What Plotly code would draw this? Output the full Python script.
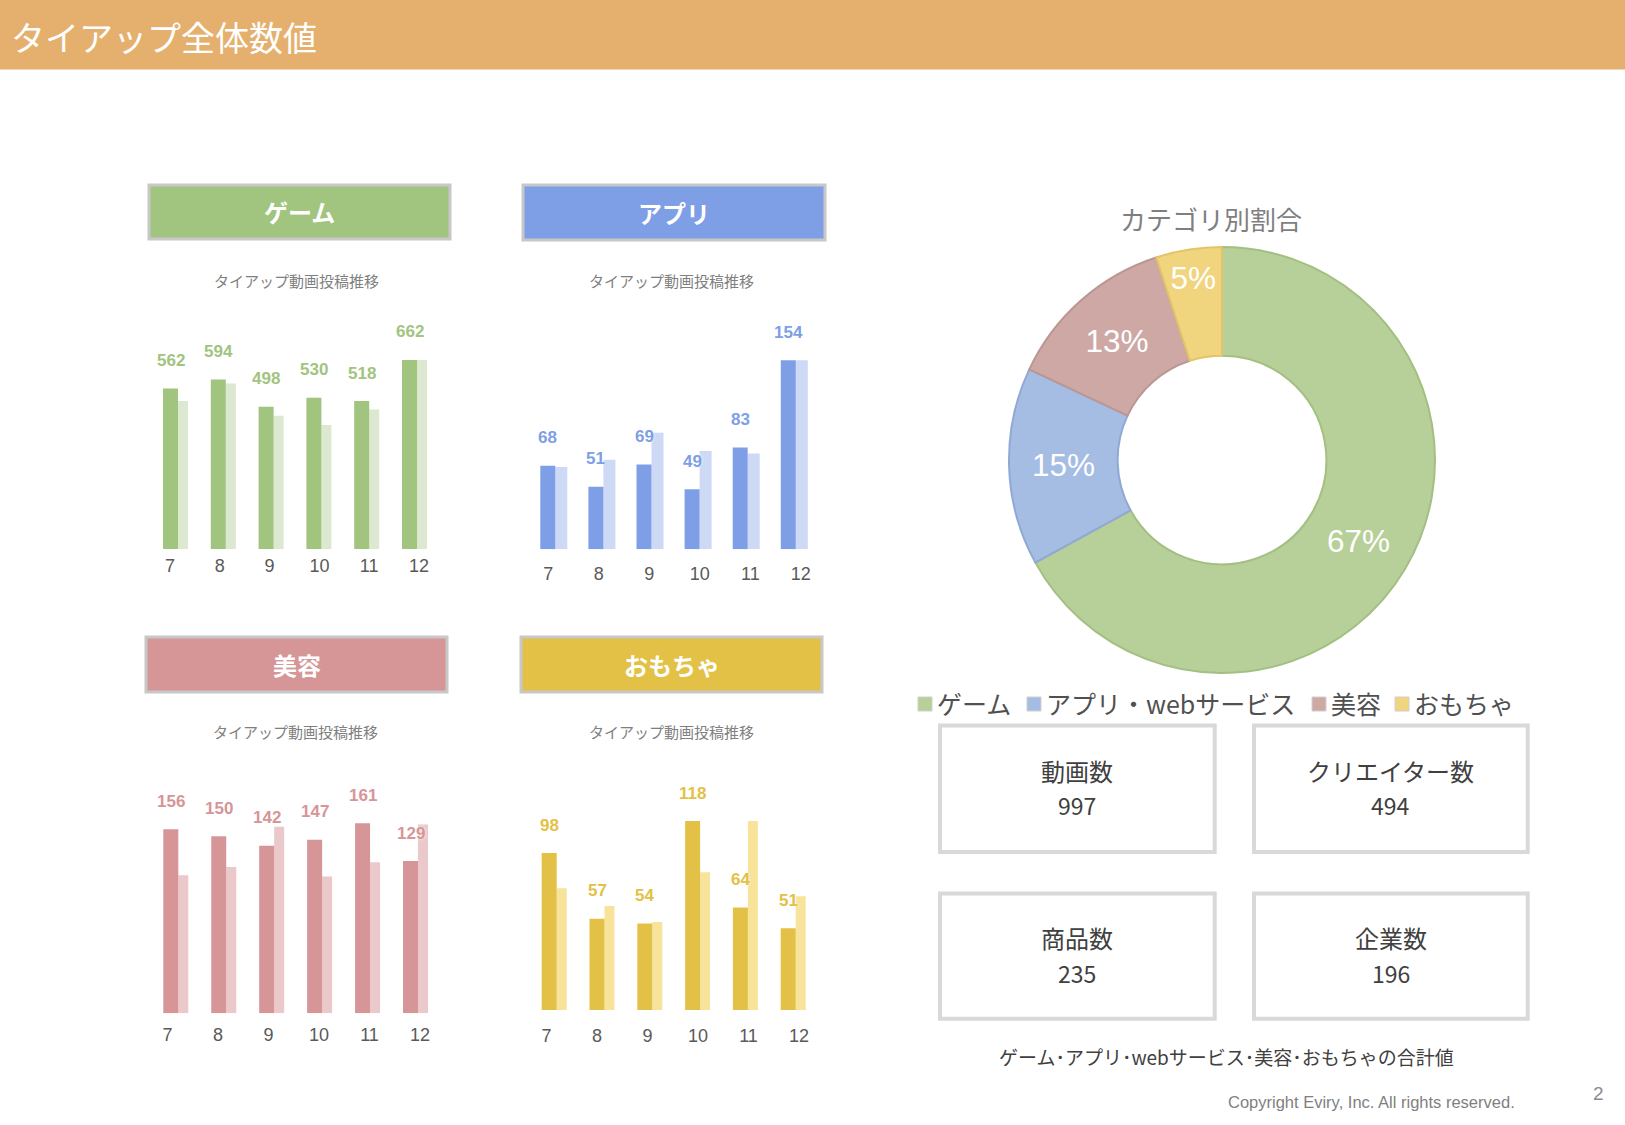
import plotly.graph_objects as go

W, H = 1625, 1125
JP = "Noto Sans CJK JP"
NUM = "Liberation Sans, Arial"

# monthly tie-up video posts (dark = this period, light = comparison)
months = ["7", "8", "9", "10", "11", "12"]
game_cur = [562, 594, 498, 530, 518, 662]
game_prev = [518, 580, 467, 434, 489, 662]
app_cur = [68, 51, 69, 49, 83, 154]
app_prev = [67, 73, 95, 80, 78, 154]
beauty_cur = [156, 150, 142, 147, 161, 129]
beauty_prev = [117, 124, 158, 116, 128, 160]
toy_cur = [98, 57, 54, 118, 64, 51]
toy_prev = [76, 65, 55, 86, 118, 71]

# category share (donut)
categories = ["ゲーム", "アプリ・webサービス", "美容", "おもちゃ"]
share = [67, 15, 13, 5]

# totals
kpi_labels = ["動画数", "クリエイター数", "商品数", "企業数"]
kpi_values = [997, 494, 235, 196]


def px(x):
    return x / W


def py(y):
    return 1 - y / H


# c0/step: first bar centre and bar pitch (px); t0/tstep: same for the month labels
panels = [
    dict(title="ゲーム", cur=game_cur, prev=game_prev, dark="#A1C47F", light="#DCE8CF",
         c0=170.5, step=47.8, t0=170, tstep=49.8, base=549.0, ymax=700, top=349.15,
         box=(149, 185, 450, 239), sub=(296, 280), lw=10, standoff=4),
    dict(title="アプリ", cur=app_cur, prev=app_prev, dark="#7E9FE6", light="#CDD9F5",
         c0=547.8, step=48.1, t0=548.3, tstep=50.5, base=549.3, ymax=165, top=346.8,
         box=(523, 185, 825, 240), sub=(671.6, 280), lw=12, standoff=12),
    dict(title="美容", cur=beauty_cur, prev=beauty_prev, dark="#D69596", light="#EBC8C9",
         c0=170.8, step=47.94, t0=167.5, tstep=50.5, base=1013.3, ymax=175, top=806.8,
         box=(146, 637, 447, 692), sub=(295.4, 731.7), lw=10, standoff=9),
    dict(title="おもちゃ", cur=toy_cur, prev=toy_prev, dark="#E3C146", light="#F8E39A",
         c0=549.2, step=47.8, t0=546.5, tstep=50.5, base=1010.0, ymax=130, top=801.8,
         box=(521, 637, 822, 692), sub=(671.6, 731.7), lw=10, standoff=13),
]

fig = go.Figure()
shapes = []
annotations = []
layout = {}

# header band
shapes.append(dict(type="rect", xref="paper", yref="paper", x0=0, x1=1, y0=py(69.5), y1=1,
                   fillcolor="#E5B06E", line=dict(width=0), layer="below"))
annotations.append(dict(text="タイアップ全体数値", xref="paper", yref="paper", x=px(9), y=py(37),
                        xanchor="left", yanchor="middle", showarrow=False,
                        font=dict(family=JP, size=34, color="white")))

xs = list(range(len(months)))
for k, p in enumerate(panels, start=1):
    xa = "x" if k == 1 else f"x{k}"
    ya = "y" if k == 1 else f"y{k}"
    s = p["step"]
    left = p["c0"] - s / 2
    tickvals = [(p["t0"] + p["tstep"] * i - p["c0"]) / s for i in xs]
    fig.add_trace(go.Bar(x=xs, y=p["prev"], xaxis=xa, yaxis=ya, marker_color=p["light"],
                         width=p["lw"] / s, offset=7.5 / s,
                         marker_line_width=0, showlegend=False, hoverinfo="skip"))
    fig.add_trace(go.Bar(x=xs, y=p["cur"], xaxis=xa, yaxis=ya, marker_color=p["dark"],
                         width=15 / s, offset=-7.5 / s,
                         marker_line_width=0, showlegend=False))
    layout[f"xaxis{'' if k == 1 else k}"] = dict(
        domain=[px(left), px(left + 6 * s)], range=[-0.5, 5.5], anchor=ya,
        tickvals=tickvals, ticktext=months, showgrid=False, zeroline=False, showline=False,
        ticks="", ticklabelstandoff=p["standoff"], fixedrange=True,
        tickfont=dict(family=NUM, size=18, color="#595959"))
    layout[f"yaxis{'' if k == 1 else k}"] = dict(
        domain=[py(p["base"]), py(p["top"])], range=[0, p["ymax"]], anchor=xa,
        visible=False, fixedrange=True)
    for i, v in enumerate(p["cur"]):
        annotations.append(dict(text=str(v), xref=xa, yref=ya, x=i, y=v, yshift=28,
                                xanchor="center", yanchor="middle", showarrow=False,
                                font=dict(family=NUM, size=17, color=p["dark"], weight="bold",
                                          shadow="0px 0px 3px white")))
    x0, y0, x1, y1 = p["box"]
    shapes.append(dict(type="rect", xref="paper", yref="paper", x0=px(x0), x1=px(x1),
                       y0=py(y1), y1=py(y0), fillcolor=p["dark"],
                       line=dict(color="#C8C8C8", width=3)))
    annotations.append(dict(text=f"<b>{p['title']}</b>", xref="paper", yref="paper",
                            x=px((x0 + x1) / 2), y=py((y0 + y1) / 2), xanchor="center",
                            yanchor="middle", showarrow=False,
                            font=dict(family=JP, size=24, color="white")))
    annotations.append(dict(text="タイアップ動画投稿推移", xref="paper", yref="paper",
                            x=px(p["sub"][0]), y=py(p["sub"][1]), xanchor="center",
                            yanchor="middle", showarrow=False,
                            font=dict(family=JP, size=15, color="#7F7F7F")))

# donut
pie_fill = ["#B7CF98", "#A5BCE3", "#CDA8A5", "#F0D47E"]
pie_line = ["#A3BF82", "#90A9D4", "#BC9692", "#E2C466"]
fig.add_trace(go.Pie(labels=categories, values=share, hole=0.49, sort=False,
                     direction="clockwise", rotation=0,
                     marker=dict(colors=pie_fill, line=dict(color=pie_line, width=2)),
                     texttemplate="%{percent:.0%}", textposition="inside",
                     insidetextorientation="horizontal",
                     textfont=dict(family=NUM, size=33, color="white"),
                     domain=dict(x=[px(1009), px(1435)], y=[py(673), py(247)]),
                     showlegend=False))
annotations.append(dict(text="カテゴリ別割合", xref="paper", yref="paper", x=px(1211), y=py(218),
                        xanchor="center", yanchor="middle", showarrow=False,
                        font=dict(family=JP, size=26, color="#7F7F7F")))

# legend drawn by hand to match the slide
leg_sq = [918, 1027, 1312, 1395]
for name, sx, col in zip(categories, leg_sq, pie_fill):
    shapes.append(dict(type="rect", xref="paper", yref="paper", x0=px(sx), x1=px(sx + 14),
                       y0=py(711), y1=py(697), fillcolor=col,
                       line=dict(color="#D0D0D0", width=1)))
    annotations.append(dict(text=name, xref="paper", yref="paper", x=px(sx + 17), y=py(703),
                            xanchor="left", yanchor="middle", showarrow=False,
                            font=dict(family=JP, size=25, color="#505050")))

# KPI boxes
boxes = [(940, 725.5, 1214.7, 852), (1254, 725.5, 1527.7, 852),
         (940, 893.4, 1214.7, 1018.8), (1254, 893.4, 1527.7, 1018.8)]
for lab, val, (x0, y0, x1, y1) in zip(kpi_labels, kpi_values, boxes):
    shapes.append(dict(type="rect", xref="paper", yref="paper", x0=px(x0), x1=px(x1),
                       y0=py(y1), y1=py(y0), line=dict(color="#D9D9D9", width=4)))
    cx = (x0 + x1) / 2
    annotations.append(dict(text=lab, xref="paper", yref="paper", x=px(cx), y=py(y0 + 44.5),
                            xanchor="center", yanchor="middle", showarrow=False,
                            font=dict(family=JP, size=24, color="#404040")))
    annotations.append(dict(text=str(val), xref="paper", yref="paper", x=px(cx), y=py(y0 + 79.5),
                            xanchor="center", yanchor="middle", showarrow=False,
                            font=dict(family=JP, size=23, color="#404040")))

annotations.append(dict(text="ゲーム･アプリ･webサービス･美容･おもちゃの合計値", xref="paper", yref="paper",
                        x=px(1226), y=py(1056), xanchor="center", yanchor="middle", showarrow=False,
                        font=dict(family=JP, size=19, color="#404040")))
annotations.append(dict(text="Copyright Eviry, Inc. All rights reserved.", xref="paper", yref="paper",
                        x=px(1517), y=py(1102), xanchor="right", yanchor="middle", showarrow=False,
                        font=dict(family=NUM, size=16.5, color="#7F7F7F")))
annotations.append(dict(text="2", xref="paper", yref="paper", x=px(1598), y=py(1093),
                        xanchor="center", yanchor="middle", showarrow=False,
                        font=dict(family=NUM, size=19, color="#8C8C8C")))

fig.update_layout(
    width=W, height=H, margin=dict(l=0, r=0, t=0, b=0),
    paper_bgcolor="white", plot_bgcolor="white", barmode="overlay",
    uniformtext=dict(minsize=30, mode="show"),
    shapes=shapes, annotations=annotations, **layout,
)

# the slide starts flush at the page corner
fig.write_html("out.html", config={"displayModeBar": False},
               post_script="document.body.style.margin='0';")
